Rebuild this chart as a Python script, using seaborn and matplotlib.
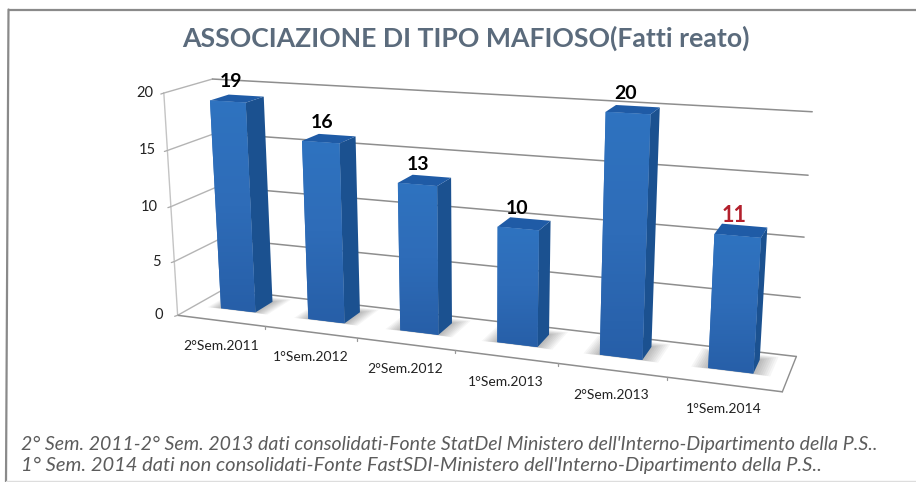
import numpy as np
import pandas as pd
import matplotlib
matplotlib.use("Agg")
import matplotlib.pyplot as plt
import seaborn as sns
from matplotlib.colors import LinearSegmentedColormap
from matplotlib.patches import Polygon
from matplotlib.transforms import Affine2D, Transform

categories = ["2°Sem.2011", "1°Sem.2012", "2°Sem.2012", "1°Sem.2013", "2°Sem.2013", "1°Sem.2014"]
values = [19, 16, 13, 10, 20, 11]
label_colors = ["black", "black", "black", "black", "black", "#b3202c"]
y_ticks = [0, 5, 10, 15, 20]
title = "ASSOCIAZIONE DI TIPO MAFIOSO(Fatti reato)"
notes = ["2° Sem. 2011-2° Sem. 2013 dati consolidati-Fonte StatDel Ministero dell'Interno-Dipartimento della P.S..",
         "1° Sem. 2014 dati non consolidati-Fonte FastSDI-Ministero dell'Interno-Dipartimento della P.S.."]

W, H = 916, 482
sns.set_theme(style="white")
plt.rcParams["font.family"] = ["Lato", "DejaVu Sans"]

BAR_W = 0.40
Z0, Z1 = 0.38, 0.78

# --- camera calibration: (x, y, z) chart space -> image pixels
calib = [((0,0,0),(179,314)),((1,0,0),(266,327)),((2,0,0),(358,337)),((3,0,0),(455,350)),
         ((4,0,0),(557,364)),((5,0,0),(666,378)),((6,0,0),(783,393)),
         ((0,10,0),(170,204)),((0,20,0),(160,91)),
         ((0,0,1),(220,293)),((0,10,1),(216,188)),((0,20,1),(215,78)),
         ((6,0,1),(795,353)),((6,10,1),(805,234)),((6,20,1),(813,109)),
         ((0.3,0,Z0),(222,308)),((0.3,19,Z0),(210,102)),((0.7,19,Z0),(248,105)),((0.7,0,Z0),(255,312)),
         ((4.3,0,Z0),(600,355)),((4.3,20,Z0),(606,112)),((4.7,20,Z0),(650,115)),((4.7,0,Z0),(643,360)),
         ((5.3,0,Z0),(708,368)),((5.3,11,Z0),(715,235)),((5.7,11,Z0),(757,238)),((5.7,0,Z0),(755,374)),
         ((0.7,19,Z1),(265,98)),((0.7,0,Z1),(274,298)),((5.7,11,Z1),(767,230)),((5.7,0,Z1),(760,363))]
A = []
for (x,y,z),(u,v) in calib:
    A.append([x,y,z,1,0,0,0,0,-u*x,-u*y,-u*z,-u])
    A.append([0,0,0,0,x,y,z,1,-v*x,-v*y,-v*z,-v])
P = np.linalg.svd(np.array(A,float))[2][-1].reshape(3,4)

def proj(x, y, z):
    q = P @ np.array([x, y, z, 1.0])
    return q[0]/q[2], q[1]/q[2]

class PlaneTransform(Transform):
    """Seaborn's data coordinates (category position, value) at depth z -> pixels."""
    input_dims = output_dims = 2
    def __init__(self, z):
        super().__init__()
        self.z = z
    def transform_non_affine(self, pts):
        pts = np.asarray(pts, float)
        h = np.c_[pts[:,0]+0.5, pts[:,1], np.full(len(pts), self.z), np.ones(len(pts))]
        q = h @ P.T
        return q[:,:2]/q[:,[2]]

fig = plt.figure(figsize=(W/100, H/100), dpi=100, facecolor="white")
px = Affine2D().scale(1, -1).translate(0, H)

# background layer in pixel coordinates
bg = fig.add_axes([0,0,1,1], zorder=0)
bg.set_xlim(0, W); bg.set_ylim(H, 0); bg.axis("off")
bg.plot([9,W],[9.5,9.5], color="#8a8a8a", lw=1.6)
bg.plot([8.5,6],[9.5,H], color="#8a8a8a", lw=1.6)
bg.plot([6,W],[481,481], color="#dddddd", lw=1.0)

def line(a, b, color, lw=1.0):
    p, q = proj(*a), proj(*b)
    bg.plot([p[0],q[0]], [p[1],q[1]], color=color, lw=lw, solid_capstyle="round", zorder=1)

for t in y_ticks:
    line((0,t,0),(0,t,1),"#b4b4b4",1.0)
    line((0,t,1),(6,t,1),"#8e8e8e",1.1)
    u,v = proj(0,t,0)
    bg.plot([u-3,u],[v+1,v],color="#aaaaaa",lw=0.9)
    bg.text(u-(11+(20-t)*0.2), v, str(t), ha="right", va="center", fontsize=10.5, color="#222222")
line((0,0,0),(0,20,0),"#c4c4c4",1.0)
line((0,0,0),(6,0,0),"#8e8e8e",1.1)
line((6,0,0),(6,0,1),"#8e8e8e",1.0)
for k in range(1,6):
    u,v = proj(k,0,0)
    bg.plot([u,u],[v,v+3],color="#999999",lw=0.9)

bg.text(466, 38, title, ha="center", va="center", fontsize=19.2, fontweight="bold", color="#5b6b7c")
bg.text(21, 444, notes[0], ha="left", va="center", fontsize=14.0, style="italic", color="#5c5c5c")
bg.text(21, 465, notes[1], ha="left", va="center", fontsize=14.5, style="italic", color="#5c5c5c")
for k, c in enumerate(categories):
    u,v = proj(k+0.5,0,0)
    bg.text(u, v+25, c, ha="center", va="center", fontsize=10, color="#222222")

# seaborn bars, re-projected through the same camera
ax = fig.add_axes([0,0,1,1], zorder=2)
df = pd.DataFrame({"periodo": categories, "fatti": values})
sns.barplot(data=df, x="periodo", y="fatti", color="#2d6bb5", saturation=1, width=BAR_W, ax=ax, zorder=3)
ax.axis("off")
ax.patch.set_visible(False)

# gradient layer over the front faces
ov = fig.add_axes([0,0,1,1], zorder=3)
ov.set_xlim(0, W); ov.set_ylim(H, 0); ov.axis("off"); ov.patch.set_visible(False)
cmap = LinearSegmentedColormap.from_list("face", ["#2f73c0", "#2e6cb8", "#275fa8"])
grad = np.linspace(0, 1, 64).reshape(-1, 1)

side_c, top_c = "#1b5190", "#1f5ba6"
for k, (bar, val, col) in enumerate(zip(ax.patches, values, label_colors)):
    x0, w, h = bar.get_x(), bar.get_width(), bar.get_height()
    x1 = x0 + w
    bar.set_transform(PlaneTransform(Z0) + px)
    bar.set_clip_on(False)
    bar.set_edgecolor("none")
    bar.set_zorder(4)
    xa, xb = x0+0.5, x1+0.5
    # soft floor shadow
    for grow in np.linspace(0.15, 0.02, 8):
        pts = [proj(xa-grow, 0, Z0-0.15*grow), proj(xb+grow, 0, Z0-0.15*grow),
               proj(xb+grow, 0, Z1+grow), proj(xa-grow, 0, Z1+grow)]
        ax.add_patch(Polygon(pts, fc="black", alpha=0.035, ec="none", transform=px, clip_on=False, zorder=2))
    side = [proj(xb,0,Z0), proj(xb,h,Z0), proj(xb,h,Z1), proj(xb,0,Z1)]
    ax.add_patch(Polygon(side, fc=side_c, ec="none", transform=px, clip_on=False, zorder=4))
    top = [proj(xa,h,Z0), proj(xb,h,Z0), proj(xb,h,Z1), proj(xa,h,Z1)]
    ax.add_patch(Polygon(top, fc=top_c, ec="none", transform=px, clip_on=False, zorder=4))
    face = [proj(xa,0,Z0), proj(xb,0,Z0), proj(xb,h,Z0), proj(xa,h,Z0)]
    xs, ys = zip(*face)
    im = ov.imshow(grad, cmap=cmap, aspect="auto", extent=(min(xs), max(xs), max(ys), min(ys)), zorder=1)
    im.set_clip_path(Polygon(face, transform=ov.transData))
    u,v = proj((xa+xb)/2, h, Z0)
    ov.text(u+3-1.3*k, v-20, str(val), ha="center", va="center", fontsize=15.5 if k == 5 else 14,
            fontweight="bold", color=col, zorder=6, clip_on=False)
ov.set_xlim(0, W); ov.set_ylim(H, 0)

fig.savefig("out.png", dpi=100)
